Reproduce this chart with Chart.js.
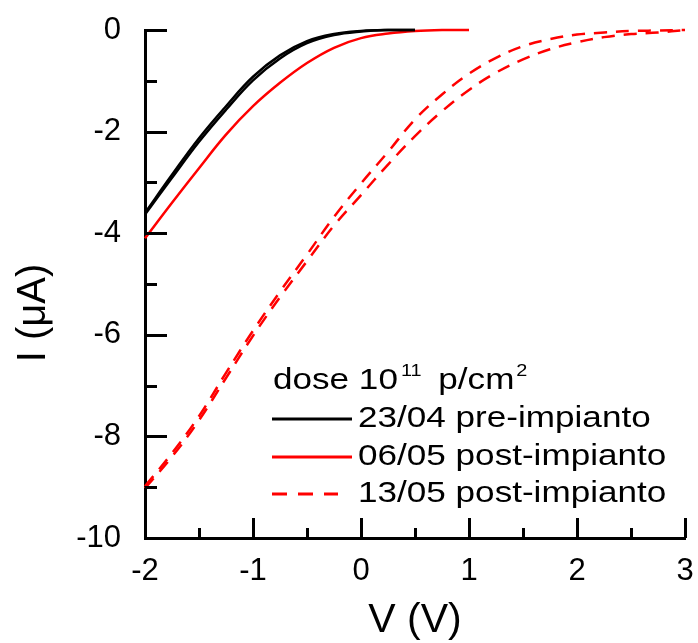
<!DOCTYPE html>
<html>
<head>
<meta charset="utf-8">
<script src="https://cdn.jsdelivr.net/npm/chart.js@4.4.0/dist/chart.umd.min.js"></script>
<style>
  html, body { margin: 0; padding: 0; background: #fff; }
</style>
</head>
<body>
<canvas id="iv" width="698" height="643"></canvas>
<script>
// I-V curves, dose 1e11 p/cm^2
const V_PRE = [-2, -1.75, -1.5, -1.25, -1, -0.75, -0.5, -0.25, 0, 0.25, 0.5]
const I_PRE_1 = [-3.60, -2.85, -2.13, -1.50, -0.92, -0.50, -0.22, -0.08, -0.02, 0, 0]
const I_PRE_2 = [-3.63, -2.91, -2.20, -1.57, -0.99, -0.56, -0.26, -0.10, -0.03, 0, 0]

const V_0605 = [-2, -1.75, -1.5, -1.25, -1, -0.75, -0.5, -0.25, 0, 0.25, 0.5, 0.75, 1]
const I_0605 = [-4.10, -3.40, -2.72, -2.06, -1.50, -1.04, -0.65, -0.35, -0.16, -0.07, -0.02, 0, 0]

const V_1305 = [-2, -1.75, -1.5, -1.25, -1, -0.75, -0.5, -0.25, 0, 0.25, 0.5, 0.75, 1, 1.25, 1.5, 1.75, 2, 2.25, 2.5, 2.75, 3]
const I_1305_1 = [-8.98, -8.33, -7.60, -6.75, -5.92, -5.15, -4.42, -3.68, -3.02, -2.40, -1.76, -1.27, -0.86, -0.55, -0.32, -0.18, -0.09, -0.05, -0.02, -0.01, 0]
const I_1305_2 = [-9.02, -8.40, -7.68, -6.85, -6.02, -5.26, -4.55, -3.85, -3.25, -2.65, -2.09, -1.60, -1.18, -0.84, -0.58, -0.38, -0.24, -0.14, -0.08, -0.05, 0]

const LEGEND_TITLE = ['dose 10', '11', ' p/cm', '2']
const LABELS = ['23/04 pre-impianto', '06/05 post-impianto', '13/05 post-impianto']

const X_MIN = -2, X_MAX = 3
const Y_MIN = -10, Y_MAX = 0

const FONT = "'Liberation Sans', Arial, sans-serif"
const RED = '#ff0000'
const BLACK = '#000000'
const DASH = [13, 9]

function pts(xs, ys) {
  return xs.map((x, i) => ({ x: x, y: ys[i] }))
}

function curve(xs, ys, color, dash, legend) {
  return {
    label: legend || '',
    showInLegend: !!legend,
    data: pts(xs, ys),
    borderColor: color,
    borderWidth: 2.5,
    borderDash: dash || [],
    pointRadius: 0,
    fill: false,
    tension: 0.4,
    clip: 4,
  }
}

const datasets = [
  curve(V_PRE, I_PRE_1, BLACK, null, LABELS[0]),
  curve(V_PRE, I_PRE_2, BLACK),
  curve(V_0605, I_0605, RED, null, LABELS[1]),
  curve(V_1305, I_1305_1, RED, DASH, LABELS[2]),
  curve(V_1305, I_1305_2, RED, DASH),
]

// text stretched a bit wider, like the original figure
function wideText(ctx, text, x, y, sx) {
  ctx.save()
  ctx.translate(x, y)
  ctx.scale(sx, 1)
  ctx.fillText(text, 0, 0)
  ctx.restore()
  return ctx.measureText(text).width * sx
}

// inward ticks: long on labelled values, short in between
const innerTicks = {
  id: 'innerTicks',
  afterDraw(chart) {
    const { ctx, chartArea, scales } = chart
    ctx.save()
    ctx.strokeStyle = BLACK
    ctx.lineWidth = 3
    scales.y.ticks.forEach(t => {
      const py = Math.round(scales.y.getPixelForValue(t.value)) + 0.5
      const len = t.value % 2 === 0 ? 22 : 12
      ctx.beginPath()
      ctx.moveTo(chartArea.left, py)
      ctx.lineTo(chartArea.left + len, py)
      ctx.stroke()
    })
    scales.x.ticks.forEach(t => {
      const px = Math.round(scales.x.getPixelForValue(t.value)) + 0.5
      const len = Number.isInteger(t.value) ? 20 : 10
      ctx.beginPath()
      ctx.moveTo(px, chartArea.bottom)
      ctx.lineTo(px, chartArea.bottom - len)
      ctx.stroke()
    })
    ctx.restore()
  }
}

// axis titles
const axisTitles = {
  id: 'axisTitles',
  afterDraw(chart) {
    const { ctx, chartArea } = chart
    ctx.save()
    ctx.fillStyle = BLACK
    ctx.textAlign = 'center'
    ctx.textBaseline = 'middle'
    ctx.font = '41px ' + FONT
    ctx.fillText('V (V)', (chartArea.left + chartArea.right) / 2, 621)
    ctx.translate(34, 313)
    ctx.rotate(-Math.PI / 2)
    ctx.font = '40px ' + FONT
    ctx.fillText('I (\u03bcA)', 0, 0)
    ctx.restore()
  }
}

// legend inside the plot, lower right
const insideLegend = {
  id: 'insideLegend',
  afterDraw(chart) {
    const { ctx } = chart
    const sx = 1.17
    const x0 = 272
    ctx.save()
    ctx.fillStyle = BLACK
    ctx.textAlign = 'left'
    ctx.textBaseline = 'middle'

    // title with superscripts
    let x = 273
    const yT = 381
    ctx.font = '30px ' + FONT
    x += wideText(ctx, LEGEND_TITLE[0], x, yT, sx)
    ctx.font = '17px ' + FONT
    x += wideText(ctx, LEGEND_TITLE[1], x + 3, yT - 10, sx) + 10
    ctx.font = '30px ' + FONT
    x += wideText(ctx, LEGEND_TITLE[2], x, yT, sx)
    ctx.font = '17px ' + FONT
    wideText(ctx, LEGEND_TITLE[3], x + 2, yT - 10, sx)

    const rows = [419, 457, 494]
    chart.data.datasets.filter(d => d.showInLegend).forEach((d, i) => {
      const y = rows[i]
      ctx.save()
      ctx.strokeStyle = d.borderColor
      ctx.lineWidth = 3
      ctx.setLineDash(d.borderDash.length ? [15, 11] : [])
      ctx.beginPath()
      ctx.moveTo(x0, y)
      ctx.lineTo(d.borderDash.length ? 338 : 352, y)
      ctx.stroke()
      ctx.restore()
      ctx.font = '30px ' + FONT
      wideText(ctx, d.label, 358, y, sx)
    })
    ctx.restore()
  }
}

Chart.defaults.font.family = FONT
Chart.defaults.color = BLACK

new Chart(document.getElementById('iv').getContext('2d'), {
  type: 'line',
  data: { datasets: datasets },
  plugins: [innerTicks, axisTitles, insideLegend],
  options: {
    responsive: false,
    animation: false,
    layout: { autoPadding: false, padding: { top: 30, right: 13, left: 0, bottom: 0 } },
    plugins: {
      legend: { display: false },
      tooltip: { enabled: false },
    },
    scales: {
      x: {
        type: 'linear',
        min: X_MIN,
        max: X_MAX,
        grid: { display: false, drawTicks: false },
        border: { display: true, color: BLACK, width: 3 },
        ticks: {
          stepSize: 0.5,
          autoSkip: false,
          maxRotation: 0,
          padding: 15,
          font: { size: 31 },
          color: BLACK,
          callback: v => Number.isInteger(v) ? String(v) : '',
        },
        afterFit: s => { s.height = 105; s.paddingLeft = 0; s.paddingRight = 0 },
      },
      y: {
        type: 'linear',
        min: Y_MIN,
        max: Y_MAX,
        grid: { display: false, drawTicks: false },
        border: { display: true, color: BLACK, width: 3 },
        ticks: {
          stepSize: 1,
          autoSkip: false,
          padding: 24,
          font: { size: 31 },
          color: BLACK,
          callback: v => v % 2 === 0 ? String(v) : '',
        },
        afterFit: s => { s.width = 145; s.paddingTop = 0; s.paddingBottom = 0 },
      },
    },
  },
})
</script>
</body>
</html>
